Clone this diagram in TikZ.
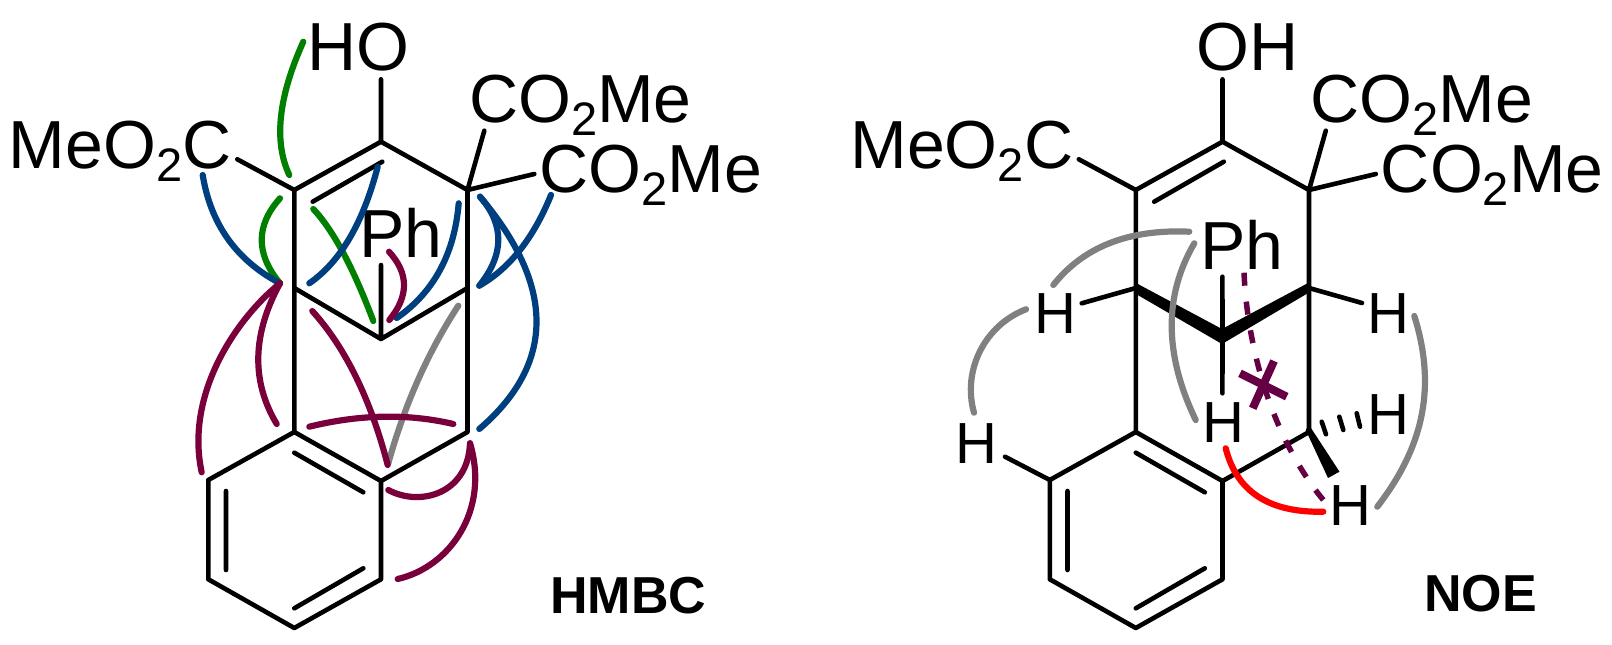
\documentclass[tikz,border=0pt]{standalone}
\usepackage{fontspec}
\usetikzlibrary{calc}
\setmainfont{Liberation Sans}
\definecolor{mar}{HTML}{7A003C}
\definecolor{blu}{HTML}{003F7F}
\definecolor{grn}{HTML}{007F00}
\definecolor{gry}{HTML}{808080}
\definecolor{dmar}{HTML}{660044}
\newcommand\subtwo{\raisebox{-13.4pt}{\fontsize{47}{47}\selectfont 2}}
\newcommand\skel[2]{%
  \coordinate (#1a) at (#2+381,141.7);
  \coordinate (#1b) at (#2+294.3,190);
  \coordinate (#1c) at (#2+467.5,190);
  \coordinate (#1d) at (#2+294.3,288);
  \coordinate (#1e) at (#2+467.5,288);
  \coordinate (#1f) at (#2+381,339);
  \coordinate (#1g) at (#2+294.3,432);
  \coordinate (#1h) at (#2+467.5,432);
  \coordinate (#1i) at (#2+381,481);
  \coordinate (#1j) at (#2+208.3,480);
  \coordinate (#1k) at (#2+208.3,579.3);
  \coordinate (#1l) at (#2+294.3,628);
  \coordinate (#1m) at (#2+381,579.3);
  \coordinate (#1n1) at (#2+312.7,201.7);
  \coordinate (#1n2) at (#2+382.3,161.7);
  \coordinate (#1o1) at (#2+294.3,452.7);
  \coordinate (#1o2) at (#2+363.3,492.3);
  \coordinate (#1p1) at (#2+226,491);
  \coordinate (#1p2) at (#2+226,570);
  \coordinate (#1q1) at (#2+294.3,608.3);
  \coordinate (#1q2) at (#2+363.3,568.3);
  \coordinate (#1r) at (#2+381,79.3);
  \coordinate (#1s) at (#2+237.3,159.3);
  \coordinate (#1t) at (#2+484.3,130.7);
  \coordinate (#1u) at (#2+534.3,174);
  \draw[bond] (#1a)--(#1b) (#1a)--(#1c) (#1b)--(#1d) (#1c)--(#1e)
    (#1d)--(#1g) (#1e)--(#1h) (#1g)--(#1i) (#1h)--(#1i)
    (#1g)--(#1j) (#1j)--(#1k) (#1k)--(#1l) (#1l)--(#1m) (#1m)--(#1i)
    (#1n1)--(#1n2) (#1o1)--(#1o2) (#1p1)--(#1p2) (#1q1)--(#1q2)
    (#1a)--(#1r) (#1b)--(#1s) (#1c)--(#1t) (#1c)--(#1u);
  \node[lab] (#1meo) at (#2+9,168.3) {MeO\subtwo C};
  \node[lab] (#1co1) at (#2+469,122.3) {CO\subtwo Me};
  \node[lab] (#1co2) at (#2+539.4,192.3) {CO\subtwo Me};
}
% arc A-M-B: a parabola through M
\newcommand\qv[4]{\draw[nmr,#1] #2 .. controls ($1.3333*#3-0.3333*#4$) and ($1.3333*#3-0.3333*#2$) .. #4;}
\begin{document}
\begin{tikzpicture}[x=1pt,y=-1pt,
  bond/.style={line width=4.6pt,line cap=round,line join=miter,black},
  lab/.style={anchor=base west,inner sep=0pt,outer sep=0pt,font=\fontsize{68}{68}\selectfont},
  hlab/.style={anchor=base west,inner sep=0pt,outer sep=0pt,font=\fontsize{58}{58}\selectfont},
  tag/.style={anchor=base west,inner sep=0pt,outer sep=0pt,font=\fontsize{52}{52}\selectfont\bfseries}, 
  nmr/.style={line width=6.2pt,line cap=round}]
\useasboundingbox (0,0) rectangle (1612,645);
% ---------- left molecule
\skel{L}{0}
\coordinate (Lph) at (381,265);
\draw[bond] (Lf)--(Lph) (Ld)--(Lf) (Le)--(Lf);
\node[lab] (Lho) at (307,70) {HO};
\node[lab] (Lp) at (359.3,257.3) {Ph};
\node[tag] (hmbc) at (550.3,613) {HMBC};
% green
\qv{grn}{(303.3,41.7)}{(281,116.7)}{(289.3,175)}
\qv{grn}{(280,198.3)}{(261.7,240)}{(280,283.3)}
\qv{grn}{(313.3,209)}{(343.3,253)}{(373.3,321)}
% blue
\qv{blu}{(202.7,175)}{(228,239)}{(280,283.3)}
\qv{blu}{(377.7,166.7)}{(349.7,238)}{(309.3,283.3)}
\qv{blu}{(458.7,203.3)}{(440,270)}{(396.7,318)}
\qv{blu}{(480,196.7)}{(498.3,240)}{(479.3,285.7)}
\qv{blu}{(551,195)}{(520,250)}{(479.3,285.7)}
\qv{blu}{(480,196.7)}{(536.5,322)}{(479.3,429)}
% gray
\qv{gry}{(458.3,305.7)}{(418,380)}{(388.3,463.3)}
% maroon
\qv{mar}{(389,251.7)}{(404,285)}{(389.3,320)}
\draw[nmr,mar] (280,283.3) .. controls (235,320) and (185,395) .. (201.7,472.3);
\qv{mar}{(276.7,424)}{(258.3,356.7)}{(280,283.3)}
\qv{mar}{(312.3,311)}{(356,377)}{(387.7,465)}
\qv{mar}{(309.3,426.7)}{(383.3,416.7)}{(453.3,424)}
\draw[nmr,mar] (388.3,490) .. controls (420,507) and (468,494) .. (470,443.3);
\draw[nmr,mar] (397.7,579) .. controls (450,567) and (490,510) .. (470,443.3);
% ---------- right molecule
\skel{R}{841.5}
\coordinate (Rph) at (1222.4,276.7);
\coordinate (Rhc) at (1222.4,393.3);
\coordinate (Rhl) at (1081.7,303.3);
\coordinate (Rhr) at (1362,303);
\coordinate (Rha) at (1005,456.7);
\draw[bond] (Rf)--(Rph) (Rf)--(Rhc) (Rd)--(Rhl) (Re)--(Rhr) (Rj)--(Rha);
\fill (1136,283)--(1222,329)--(1309,282.5)--(1309,292.5)--(1222,344)--(1136,294)--cycle;
\fill (1309,425)--(1339.5,471.7)--(1328,478)--(1305.7,430)--cycle;
\draw[line width=4.6pt,line cap=round] (1321.7,421.7)--(1326,434.3) (1339.3,416.7)--(1343.3,430) (1356.7,413.3)--(1360,426.7);
\node[lab] (Roh) at (1196.8,70) {OH};
\node[lab] (Rp) at (1200,269.3) {Ph};
\node[hlab] (H1) at (1034.7,333.3) {H};
\node[hlab] (H2) at (1367.4,333.3) {H};
\node[hlab] (H3) at (1202.1,442.3) {H};
\node[hlab] (H4) at (1367.4,434) {H};
\node[hlab] (H5) at (1329.4,525) {H};
\node[hlab] (H6) at (955.4,463.3) {H};
\node[tag] (noe) at (1424,611.7) {NOE};
\qv{gry}{(1053.3,285)}{(1110,243)}{(1189.3,231.7)}
\qv{gry}{(1194.3,243.3)}{(1171.7,326.7)}{(1195.7,420)}
\draw[nmr,gry] (1026,309.3) .. controls (985,325) and (962,370) .. (974,412.7);
\draw[nmr,gry] (1414.3,316) .. controls (1436,385) and (1425,445) .. (1377.3,506.7);
\qv{red}{(1225.7,448.3)}{(1258.3,496.7)}{(1323.3,511.7)}
\draw[dmar,line width=5.5pt,dash pattern=on 13pt off 16pt] (1244,272.7) .. controls (1248,360) and (1278,445) .. (1323.3,500);
\draw[dmar,line width=8pt] (1240,373.3)--(1286.7,396.7) (1274,361)--(1252.7,408.3);
\end{tikzpicture}
\end{document}
